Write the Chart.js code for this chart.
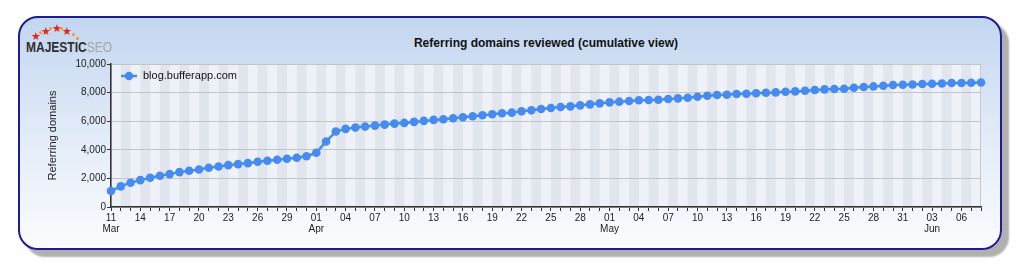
<!DOCTYPE html>
<html>
<head>
<meta charset="utf-8">
<script src="https://cdn.jsdelivr.net/npm/chart.js@4.4.0/dist/chart.umd.min.js"></script>
<style>
  body { margin: 0; background: #fff; width: 1024px; height: 277px; overflow: hidden; font-family: "Liberation Sans", Arial, sans-serif; }
  .panel {
    position: absolute; left: 18px; top: 16px; width: 984px; height: 234px; box-sizing: border-box;
    border: 2px solid #1d1d8f; border-radius: 20px;
    background: linear-gradient(to bottom, #c2d6f0 0%, #dfe9f7 45%, #fbfcfe 100%);
    box-shadow: 7px 7px 2px #b0b0b0;
  }
  .logo { position: absolute; left: 25px; top: 24px; width: 100px; height: 34px; }
  .logo .star { position: absolute; color: #e3261c; font-size: 11px; line-height: 11px; }
  .logo .dot { position: absolute; width: 3px; height: 3px; border-radius: 2px; background: #f29a1e; }
  .logo .word { position: absolute; left: 1px; top: 14px; font-size: 15px; line-height: 17px; white-space: nowrap;
    transform: scaleX(0.8); transform-origin: left top; }
  .logo .maj { font-weight: bold; color: #2f2f2f; }
  .logo .seo { color: #a9a9a9; }
  .title { position: absolute; left: 346px; top: 36px; width: 400px; text-align: center;
    font-size: 12px; font-weight: bold; color: #111; }
  canvas { position: absolute; left: 0; top: 0; }
</style>
</head>
<body>
<div class="panel"></div>
<div class="logo">
  <span class="star" style="left:6px;top:7px">★</span>
  <span class="star" style="left:16px;top:2px">★</span>
  <span class="star" style="left:27px;top:-1px">★</span>
  <span class="star" style="left:37px;top:2px">★</span>
  <span class="dot" style="left:14px;top:7px"></span>
  <span class="dot" style="left:24px;top:3px"></span>
  <span class="dot" style="left:35px;top:3px"></span>
  <span class="dot" style="left:47px;top:9px"></span>
  <span class="dot" style="left:51px;top:13px"></span>
  <div class="word"><span class="maj">MAJESTIC</span><span class="seo">SEO</span></div>
</div>
<div class="title">Referring domains reviewed (cumulative view)</div>
<canvas id="chart" width="1024" height="277"></canvas>
<script>
const categories = [
  "11 Mar", "12 Mar", "13 Mar", "14 Mar", "15 Mar", "16 Mar", "17 Mar", "18 Mar", "19 Mar", "20 Mar",
  "21 Mar", "22 Mar", "23 Mar", "24 Mar", "25 Mar", "26 Mar", "27 Mar", "28 Mar", "29 Mar", "30 Mar", "31 Mar",
  "01 Apr", "02 Apr", "03 Apr", "04 Apr", "05 Apr", "06 Apr", "07 Apr", "08 Apr", "09 Apr", "10 Apr",
  "11 Apr", "12 Apr", "13 Apr", "14 Apr", "15 Apr", "16 Apr", "17 Apr", "18 Apr", "19 Apr", "20 Apr",
  "21 Apr", "22 Apr", "23 Apr", "24 Apr", "25 Apr", "26 Apr", "27 Apr", "28 Apr", "29 Apr", "30 Apr",
  "01 May", "02 May", "03 May", "04 May", "05 May", "06 May", "07 May", "08 May", "09 May", "10 May",
  "11 May", "12 May", "13 May", "14 May", "15 May", "16 May", "17 May", "18 May", "19 May", "20 May",
  "21 May", "22 May", "23 May", "24 May", "25 May", "26 May", "27 May", "28 May", "29 May", "30 May", "31 May",
  "01 Jun", "02 Jun", "03 Jun", "04 Jun", "05 Jun", "06 Jun", "07 Jun", "08 Jun"
];

// cumulative referring domains for blog.bufferapp.com
const referringDomains = [
  1115, 1443, 1700, 1882, 2048, 2188, 2300, 2440, 2536, 2627,
  2746, 2836, 2927, 3000, 3066, 3164, 3233, 3303, 3373, 3442, 3554,
  3790, 4578, 5275, 5463, 5554, 5624, 5693, 5763, 5833, 5880,
  5951, 6021, 6091, 6132, 6202, 6272, 6341, 6411, 6481, 6551,
  6599, 6690, 6760, 6857, 6927, 6996, 7038, 7108, 7178, 7247,
  7317, 7366, 7414, 7460, 7484, 7505, 7554, 7596, 7645, 7714,
  7784, 7833, 7854, 7902, 7923, 7958, 7993, 8014, 8063, 8084,
  8130, 8180, 8223, 8251, 8272, 8341, 8390, 8432, 8481, 8530, 8551,
  8571, 8599, 8620, 8641, 8669, 8669, 8690, 8711
];

const seriesName = "blog.bufferapp.com";

// tick label shown every 3rd day, month name under the first label of a month
const labelEvery = 3;
const monthLabelAt = [0, 21, 51, 84];

const lineColor = "#468cf0";
const stripeLight = "#eef1f7";
const stripeDark = "#e1e5ee";
const fontFamily = "'Liberation Sans', Arial, sans-serif";

const plotBackground = {
  id: "plotBackground",
  beforeDraw(chart) {
    const { ctx, chartArea: a, scales: { x } } = chart;
    ctx.save();
    ctx.fillStyle = stripeLight;
    ctx.fillRect(a.left, a.top, a.width, a.height);
    ctx.fillStyle = stripeDark;
    for (let i = 0; i < categories.length - 1; i++) {
      if (i % 2 === 1) {
        const x0 = x.getPixelForValue(i);
        const x1 = x.getPixelForValue(i + 1);
        ctx.fillRect(x0, a.top, x1 - x0, a.height);
      }
    }
    ctx.strokeStyle = "#c8c8c8";
    ctx.lineWidth = 1;
    ctx.strokeRect(a.left + 0.5, a.top + 0.5, a.width - 1, a.height - 1);
    ctx.restore();
  },
};

// legend inside the plot, top left: line + dot, then the series name
const insideLegend = {
  id: "insideLegend",
  afterDraw(chart) {
    const { ctx, chartArea: a } = chart;
    const x = a.left + 10;
    const y = a.top + 12;
    ctx.save();
    ctx.strokeStyle = lineColor;
    ctx.lineWidth = 2.5;
    ctx.beginPath();
    ctx.moveTo(x, y);
    ctx.lineTo(x + 16, y);
    ctx.stroke();
    ctx.fillStyle = lineColor;
    ctx.beginPath();
    ctx.arc(x + 8, y, 4.2, 0, Math.PI * 2);
    ctx.fill();
    ctx.fillStyle = "#111";
    ctx.font = "11px " + fontFamily;
    ctx.textBaseline = "middle";
    ctx.fillText(seriesName, x + 22, y);
    ctx.restore();
  },
};

new Chart(document.getElementById("chart"), {
  type: "line",
  data: {
    labels: categories,
    datasets: [
      {
        label: seriesName,
        data: referringDomains,
        borderColor: lineColor,
        backgroundColor: lineColor,
        borderWidth: 2.5,
        pointRadius: 4.3,
        pointBorderWidth: 0,
        pointBackgroundColor: lineColor,
        tension: 0,
        clip: false,
      },
    ],
  },
  options: {
    responsive: false,
    animation: false,
    devicePixelRatio: 1,
    layout: { padding: { left: 0, right: 43, top: 64, bottom: 0 } },
    scales: {
      x: {
        offset: false,
        afterFit(scale) {
          scale.height = 70;
        },
        border: { color: "#333", width: 1.5 },
        grid: { drawOnChartArea: false, drawTicks: true, tickLength: 4, tickColor: "#333" },
        ticks: {
          autoSkip: false,
          maxRotation: 0,
          padding: 2,
          color: "#222",
          font: { family: fontFamily, size: 10, lineHeight: 1.1 },
          callback(value, index) {
            if (index % labelEvery !== 0) return "";
            const [day, month] = categories[index].split(" ");
            return monthLabelAt.includes(index) ? [day, month] : day;
          },
        },
      },
      y: {
        min: 0,
        max: 10000,
        afterFit(scale) {
          scale.width = 111;
        },
        border: { color: "#333", width: 1.5 },
        grid: { color: "#c4c4c4", tickColor: "#333", tickLength: 4 },
        ticks: {
          stepSize: 2000,
          padding: 1,
          color: "#222",
          font: { family: fontFamily, size: 10 },
          callback: (v) => v.toLocaleString("en-US"),
        },
        title: {
          display: true,
          text: "Referring domains",
          color: "#222",
          padding: { top: 46, bottom: 0 },
          font: { family: fontFamily, size: 11 },
        },
      },
    },
    plugins: {
      legend: { display: false },
      tooltip: { enabled: false },
    },
  },
  plugins: [plotBackground, insideLegend],
});
</script>
</body>
</html>
